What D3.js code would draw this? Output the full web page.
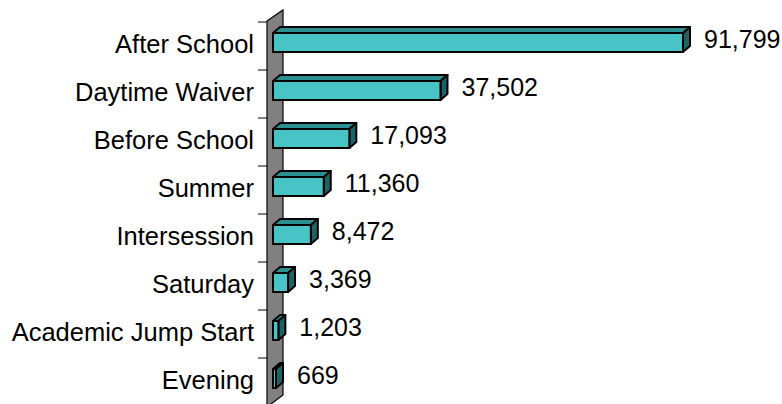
<!DOCTYPE html>
<head>
  <meta charset="utf-8" />
  <style>
    body {
      margin: 0;
      background: #ffffff;
    }
    text {
      font-family: Arial, "Liberation Sans", sans-serif;
      fill: #000000;
    }
  </style>
</head>
<body>
  <svg width="782" height="404"></svg>

  <script src="https://d3js.org/d3.v7.min.js"></script>
  <script>
    // data
    var categories = [
      "After School",
      "Daytime Waiver",
      "Before School",
      "Summer",
      "Intersession",
      "Saturday",
      "Academic Jump Start",
      "Evening",
    ];
    var values = [91799, 37502, 17093, 11360, 8472, 3369, 1203, 669];

    var svg = d3.select("svg"),
      width = +svg.attr("width"),
      height = +svg.attr("height");

    var depthX = 7,
      depthY = -6;

    var y = d3.scaleBand().domain(categories).range([22, 406]).padding(0);
    var x = d3.scaleLinear().domain([0, d3.max(values)]).range([273, 683]);

    var format = d3.format(",");

    // side wall (gray, slanted 3d)
    svg
      .append("path")
      .attr("d", "M267,21 L283,10 L283,395 L267,407 Z")
      .attr("fill", "#808080")
      .attr("stroke", "#000000")
      .attr("stroke-width", 1.2);

    // tick marks on the category axis
    var ticks = d3.range(categories.length + 1).map(function (i) {
      return 22 + i * y.bandwidth();
    });
    svg
      .append("g")
      .selectAll("line")
      .data(ticks)
      .enter()
      .append("line")
      .attr("x1", 258)
      .attr("x2", 267)
      .attr("y1", function (d) {
        return d;
      })
      .attr("y2", function (d) {
        return d;
      })
      .attr("stroke", "#000000")
      .attr("stroke-width", 1);

    var rows = categories.map(function (c, i) {
      return { name: c, value: values[i] };
    });

    var bar = svg
      .append("g")
      .selectAll("g")
      .data(rows)
      .enter()
      .append("g");

    function barTop(d) {
      return y(d.name) + 11;
    }

    // top face
    bar
      .append("path")
      .attr("d", function (d) {
        var x0 = x(0),
          x1 = x(d.value),
          t = barTop(d);
        return (
          "M" + x0 + "," + t +
          "L" + (x0 + depthX) + "," + (t + depthY) +
          "L" + (x1 + depthX) + "," + (t + depthY) +
          "L" + x1 + "," + t + "Z"
        );
      })
      .attr("fill", "#2B9092")
      .attr("stroke", "#000000")
      .attr("stroke-width", 2)
      .attr("stroke-linejoin", "round");

    // right side face
    bar
      .append("path")
      .attr("d", function (d) {
        var x1 = x(d.value),
          t = barTop(d);
        return (
          "M" + x1 + "," + t +
          "L" + (x1 + depthX) + "," + (t + depthY) +
          "L" + (x1 + depthX) + "," + (t + depthY + 19) +
          "L" + x1 + "," + (t + 19) + "Z"
        );
      })
      .attr("fill", "#1B6364")
      .attr("stroke", "#000000")
      .attr("stroke-width", 2)
      .attr("stroke-linejoin", "round");

    // front face
    bar
      .append("rect")
      .attr("x", x(0))
      .attr("y", barTop)
      .attr("width", function (d) {
        return x(d.value) - x(0);
      })
      .attr("height", 19)
      .attr("fill", "#48C3C6")
      .attr("stroke", "#000000")
      .attr("stroke-width", 2);

    // value labels
    bar
      .append("text")
      .attr("x", function (d) {
        return x(d.value) + 21;
      })
      .attr("y", function (d) {
        return y(d.name) + 26;
      })
      .attr("font-size", 25)
      .text(function (d) {
        return format(d.value);
      });

    // category labels
    svg
      .append("g")
      .selectAll("text")
      .data(categories)
      .enter()
      .append("text")
      .attr("x", 254)
      .attr("y", function (d) {
        return y(d) + 31;
      })
      .attr("text-anchor", "end")
      .attr("font-size", 25.5)
      .text(function (d) {
        return d;
      });
  </script>
</body>
